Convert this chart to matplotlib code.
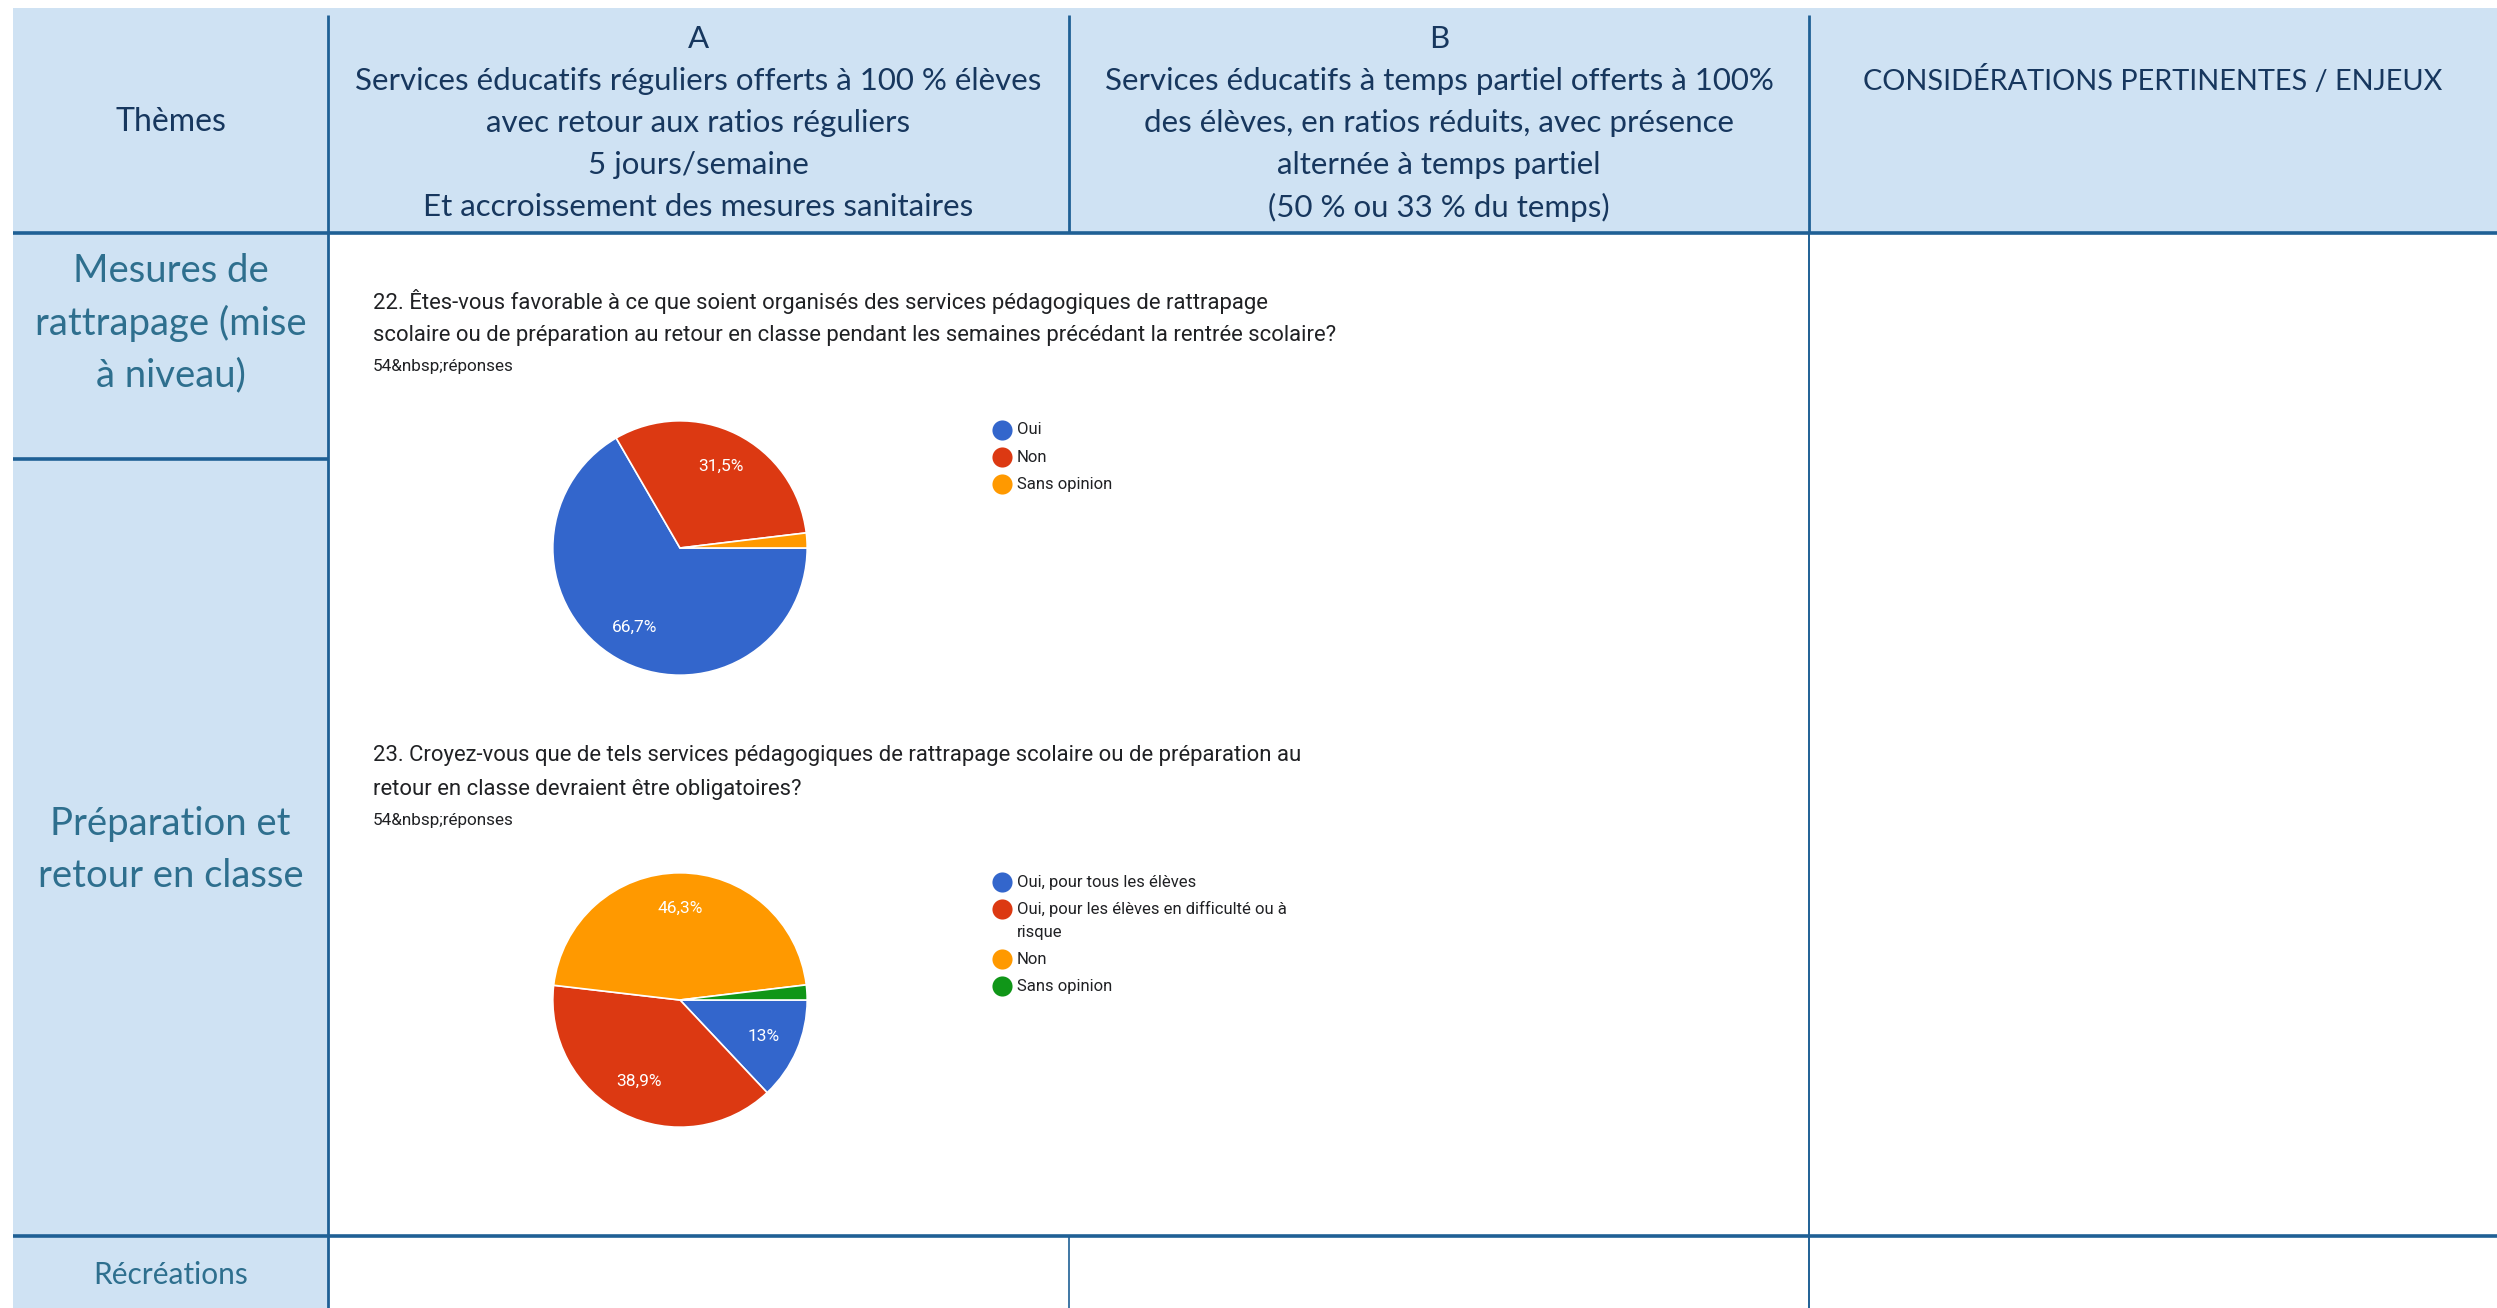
import matplotlib
matplotlib.use("Agg")
import matplotlib.pyplot as plt
from matplotlib.patches import Rectangle
from matplotlib.lines import Line2D

# table header and row labels
col_a_lines = ["A", "Services éducatifs réguliers offerts à 100 % élèves",
               "avec retour aux ratios réguliers", "5 jours/semaine",
               "Et accroissement des mesures sanitaires"]
col_b_lines = ["B", "Services éducatifs à temps partiel offerts à 100%",
               "des élèves, en ratios réduits, avec présence",
               "alternée à temps partiel", "(50 % ou 33 % du temps)"]
themes_title = "Thèmes"
enjeux_title = "CONSIDÉRATIONS PERTINENTES / ENJEUX"
row_labels = [["Mesures de", "rattrapage (mise", "à niveau)"],
              ["Préparation et", "retour en classe"]]
recreations = "Récréations"

# survey question 22
q22_title = ["22. Êtes-vous favorable à ce que soient organisés des services pédagogiques de rattrapage",
             "scolaire ou de préparation au retour en classe pendant les semaines précédant la rentrée scolaire?"]
q22_labels = ["Oui", "Non", "Sans opinion"]
q22_values = [66.7, 31.5, 1.9]

# survey question 23
q23_title = ["23. Croyez-vous que de tels services pédagogiques de rattrapage scolaire ou de préparation au",
             "retour en classe devraient être obligatoires?"]
q23_labels = ["Oui, pour tous les élèves", "Oui, pour les élèves en difficulté ou à\nrisque",
              "Non", "Sans opinion"]
q23_values = [13.0, 38.9, 46.3, 1.9]

n_answers = "54&nbsp;réponses"

W, H = 2497, 1308
LIGHT = "#cfe2f3"
LINE = "#1f6095"
NAVY = "#17375e"
TEAL = "#2e6f8e"
GCOL = ["#3366cc", "#dc3912", "#ff9900", "#109618"]

fig = plt.figure(figsize=(W / 100, H / 100), dpi=100)
ax = fig.add_axes([0, 0, 1, 1])
ax.set_xlim(0, W)
ax.set_ylim(H, 0)
ax.axis("off")

x0, x1, x2, x3 = 13, 328, 1069, 1809
y0, yh, yr1, yr2 = 8, 233, 459, 1236

# fills
ax.add_patch(Rectangle((x0, y0), W - x0, yh - y0, color=LIGHT, lw=0))
ax.add_patch(Rectangle((x0, y0), x1 - x0, H - y0, color=LIGHT, lw=0))

def hline(y, xa, xb, lw=2.6):
    ax.add_line(Line2D([xa, xb], [y, y], color=LINE, lw=lw, solid_capstyle="butt"))

def vline(x, ya, yb, lw=2.0):
    ax.add_line(Line2D([x, x], [ya, yb], color=LINE, lw=lw, solid_capstyle="butt"))

hline(yh, x0, W)
hline(yr1, x0, x1)
hline(yr2, x0, W)
vline(x1, 15, H)
vline(x2, 15, yh)
vline(x2, yr2, H, lw=1.2)
vline(x3, 15, yh)
vline(x3, yh, H, lw=1.4)

table_font = "Lato"
ax.text((x0 + x1) / 2, 122, themes_title, ha="center", va="center",
        fontsize=23, color=NAVY, family=table_font)
for i, line in enumerate(col_a_lines):
    ax.text((x1 + x2) / 2, 39 + i * 42, line, ha="center", va="center",
            fontsize=22.5, color=NAVY, family=table_font)
for i, line in enumerate(col_b_lines):
    ax.text((x2 + x3) / 2, 39 + i * 42, line, ha="center", va="center",
            fontsize=22.5, color=NAVY, family=table_font)
ax.text((x3 + W) / 2, 80, enjeux_title, ha="center", va="center",
        fontsize=20.8, color=NAVY, family=table_font)

for i, line in enumerate(row_labels[0]):
    ax.text((x0 + x1) / 2, 271 + i * 52, line, ha="center", va="center",
            fontsize=27.5, color=TEAL, family=table_font)
for i, line in enumerate(row_labels[1]):
    ax.text((x0 + x1) / 2, 824 + i * 52, line, ha="center", va="center",
            fontsize=27.5, color=TEAL, family=table_font)
ax.text((x0 + x1) / 2, 1275, recreations, ha="center", va="center",
        fontsize=21.5, color=TEAL, family=table_font)


def survey(title, y_title, labels, values, colors, center, leg_y):
    for i, line in enumerate(title):
        ax.text(373, y_title + i * 35, line, ha="left", va="center",
                fontsize=15.9, color="#202124", family="Roboto")
    ax.text(373, y_title + 66, n_answers, ha="left", va="center",
            fontsize=12.3, color="#202124", family="Roboto")

    r = 127
    cx, cy = center
    pax = fig.add_axes([(cx - r - 4) / W, 1 - (cy + r + 4) / H,
                        (2 * r + 8) / W, (2 * r + 8) / H])
    wedges, _, autotexts = pax.pie(
        values, colors=colors, startangle=0, counterclock=False,
        autopct="%1.1f", pctdistance=0.72, radius=1.0,
        wedgeprops=dict(edgecolor="white", linewidth=1.2),
        textprops=dict(color="white", fontsize=12.5, family="Roboto"))
    for t, v in zip(autotexts, values):
        s = f"{v:.1f}".rstrip("0").rstrip(".").replace(".", ",") + "%"
        t.set_text(s if v > 5 else "")
    pax.set_xlim(-1.03, 1.03)
    pax.set_ylim(-1.03, 1.03)
    pax.set_aspect("equal")
    pax.axis("off")

    y = leg_y
    for lab, col in zip(labels, colors):
        ax.scatter([1002], [y], s=210, color=col, zorder=3, lw=0)
        for k, part in enumerate(lab.split("\n")):
            ax.text(1017, y + k * 23, part, ha="left", va="center",
                    fontsize=12, color="#202124", family="Roboto")
        y += 27 + 23 * lab.count("\n")


survey(q22_title, 301, q22_labels, q22_values, GCOL[:3], (680, 548), 430)
survey(q23_title, 755, q23_labels, q23_values, GCOL, (680, 1000), 882)

fig.savefig("out.png", dpi=100)
